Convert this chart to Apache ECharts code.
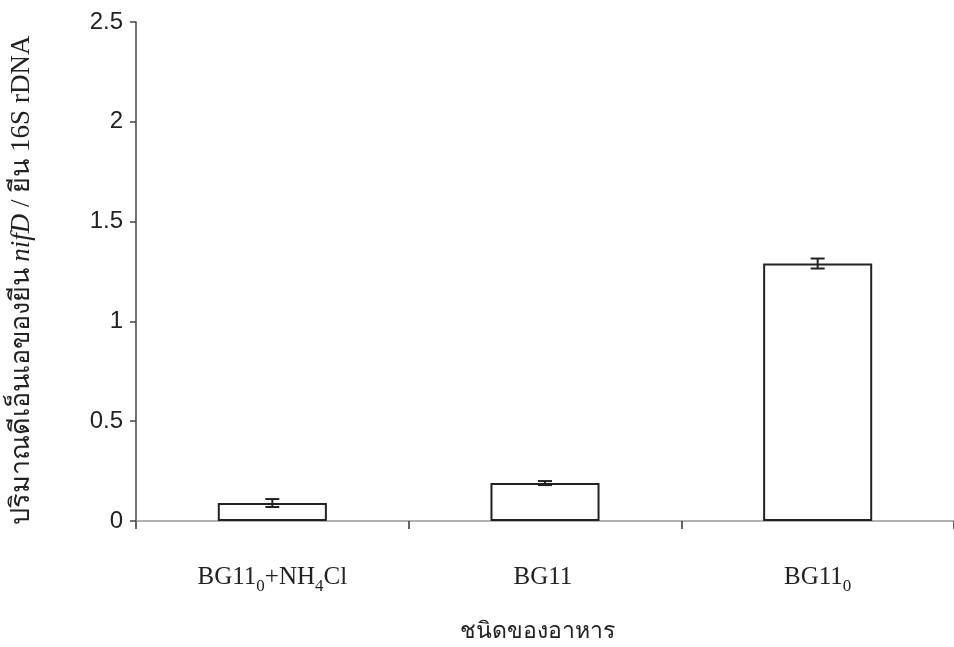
<!DOCTYPE html>
<html>
<head>
<meta charset="utf-8">
<script src="https://cdn.jsdelivr.net/npm/echarts@6/dist/echarts.min.js"></script>
<style>
  html, body { margin: 0; padding: 0; background: #fff; }
  #chart { width: 954px; height: 647px; }
</style>
</head>
<body>
<div id="chart"></div>
<script>
// Culture media (x categories) and relative nifD / 16S rDNA gene amounts
const categories = ['BG11_0+NH4Cl', 'BG11', 'BG11_0'];
const means = [0.09, 0.19, 1.29];
const errors = [0.02, 0.01, 0.025];
const yTicks = [0, 0.5, 1, 1.5, 2, 2.5];

// Rich-text forms of the category names with subscripts
// (BG11 gets an empty subscript slot so every label shares one baseline)
const categoryRich = {
  'BG11_0+NH4Cl': 'BG11{s|0}+NH{s|4}Cl',
  'BG11': 'BG11{s| }',
  'BG11_0': 'BG11{s|0}'
};

const chart = echarts.init(document.getElementById('chart'), null, { renderer: 'canvas' });

const serif = '"Liberation Serif", "Times New Roman", serif';
const sans = '"Liberation Sans", Arial, sans-serif';

chart.setOption({
  animation: false,
  backgroundColor: '#ffffff',
  grid: { left: 136, right: 0, top: 22, bottom: 126, containLabel: false, outerBoundsMode: 'none' },
  xAxis: {
    type: 'category',
    data: categories,
    boundaryGap: true,
    axisLine: { lineStyle: { color: '#9a9a9a', width: 1.5 } },
    axisTick: { show: true, interval: 0, length: 8, lineStyle: { color: '#333', width: 1.5 } },
    axisLabel: {
      interval: 0,
      margin: 39,
      color: '#222',
      fontFamily: serif,
      fontSize: 25,
      formatter: v => categoryRich[v],
      rich: {
        s: { fontFamily: serif, fontSize: 17, color: '#222', padding: [18, 0, 0, 0] }
      }
    },
    name: 'ชนิดของอาหาร',
    nameLocation: 'middle',
    nameGap: 99,
    nameTextStyle: { fontFamily: serif, fontSize: 23, color: '#222', padding: [0, 16, 0, 0] }
  },
  yAxis: {
    type: 'value',
    min: yTicks[0],
    max: yTicks[yTicks.length - 1],
    interval: 0.5,
    splitLine: { show: false },
    axisLine: { show: true, lineStyle: { color: '#444', width: 1.5 } },
    axisTick: { show: true, inside: false, length: 6, lineStyle: { color: '#444', width: 1.5 } },
    axisLabel: { color: '#222', fontFamily: sans, fontSize: 24, margin: 13 },
    name: '{t|ปริมาณดีเอ็นเอของยีน }{i|nifD}{t| / ยีน 16S rDNA}',
    nameLocation: 'middle',
    nameGap: 101,
    nameRotate: 90,
    nameTextStyle: {
      padding: [0, 18, 0, 0],
      rich: {
        t: { fontFamily: serif, fontSize: 27, color: '#222' },
        i: { fontFamily: serif, fontSize: 27, fontStyle: 'italic', color: '#222' }
      }
    }
  },
  series: [
    {
      type: 'bar',
      data: means,
      barWidth: '40%',
      itemStyle: { color: '#ffffff', borderColor: '#222', borderWidth: 2 },
      z: 2
    },
    {
      type: 'custom',
      z: 3,
      data: means.map((m, i) => [i, m - errors[i], m + errors[i]]),
      renderItem: function (params, api) {
        const lo = api.coord([api.value(0), api.value(1)]);
        const hi = api.coord([api.value(0), api.value(2)]);
        const half = 7;
        const style = { stroke: '#222', lineWidth: 2, fill: null };
        return {
          type: 'group',
          children: [
            { type: 'line', shape: { x1: lo[0], y1: lo[1], x2: hi[0], y2: hi[1] }, style },
            { type: 'line', shape: { x1: hi[0] - half, y1: hi[1], x2: hi[0] + half, y2: hi[1] }, style },
            { type: 'line', shape: { x1: lo[0] - half, y1: lo[1], x2: lo[0] + half, y2: lo[1] }, style }
          ]
        };
      }
    }
  ]
});
</script>
</body>
</html>
